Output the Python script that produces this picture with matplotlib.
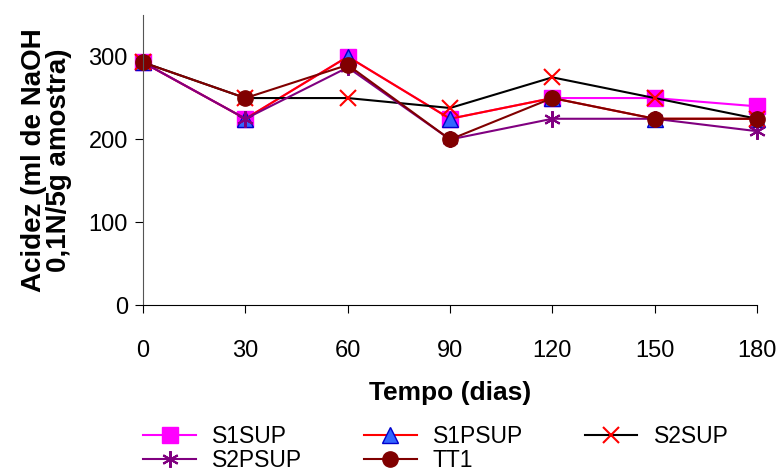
import matplotlib.pyplot as plt

plt.rcParams['font.family'] = ['Liberation Sans', 'DejaVu Sans']

dias = [0, 30, 60, 90, 120, 150, 180]
s1sup = [293, 225, 300, 225, 250, 250, 240]
s1psup = [293, 225, 300, 225, 250, 225, 225]
s2sup = [293, 250, 250, 238, 275, 250, 225]
s2psup = [293, 225, 287, 200, 225, 225, 210]
tt1 = [293, 250, 290, 200, 250, 225, 225]

fig = plt.figure(figsize=(7.78, 4.76), dpi=100)
ax = fig.add_axes([0.184, 0.359, 0.789, 0.609])

common = dict(lw=1.5, clip_on=False)
h1, = ax.plot(dias, s1sup, color='#FF00FF', marker='s', ms=11,
              mfc='#FF00FF', mec='#FF00FF', label='S1SUP', **common)
h2, = ax.plot(dias, s1psup, color='#FF0000', marker='^', ms=11,
              mfc='#3366FF', mec='#0000CC', label='S1PSUP', **common)
h3, = ax.plot(dias, s2sup, color='black', marker='x', ms=12, mew=1.5,
              mec='#FF0000', label='S2SUP', **common)
h4, = ax.plot(dias, s2psup, color='#800080', marker=(6, 2, 0), ms=12, mew=1.5,
              mec='#800080', label='S2PSUP', **common)
h5, = ax.plot(dias, tt1, color='#800000', marker='o', ms=11,
              mfc='#800000', mec='#800000', label='TT1', **common)

ax.set_xlim(0, 180)
ax.set_ylim(0, 350)
ax.set_xticks(dias)
ax.set_yticks([0, 100, 200, 300])
ax.spines['top'].set_visible(False)
ax.spines['right'].set_visible(False)
ax.spines['left'].set_color('#555555')
ax.tick_params(labelsize=17, length=6, direction='out', pad=5)
ax.tick_params(axis='x', pad=19)

ax.set_xlabel('Tempo (dias)', fontsize=19, fontweight='bold', labelpad=14)
ax.set_ylabel('Acidez (ml de NaOH\n0,1N/5g amostra)', fontsize=20, fontweight='bold',
              linespacing=0.95, labelpad=12)

# matplotlib fills legend columns first, so order handles to read row by row
handles = [h1, h4, h2, h5, h3]
fig.legend(handles=handles, labels=[h.get_label() for h in handles],
           loc='upper left', bbox_to_anchor=(0.184, 0.108), ncol=3, frameon=False,
           fontsize=16.5, handlelength=2.3, columnspacing=2.7, labelspacing=0.08,
           handletextpad=0.7, borderpad=0, borderaxespad=0)

fig.savefig('out.png', dpi=100)
